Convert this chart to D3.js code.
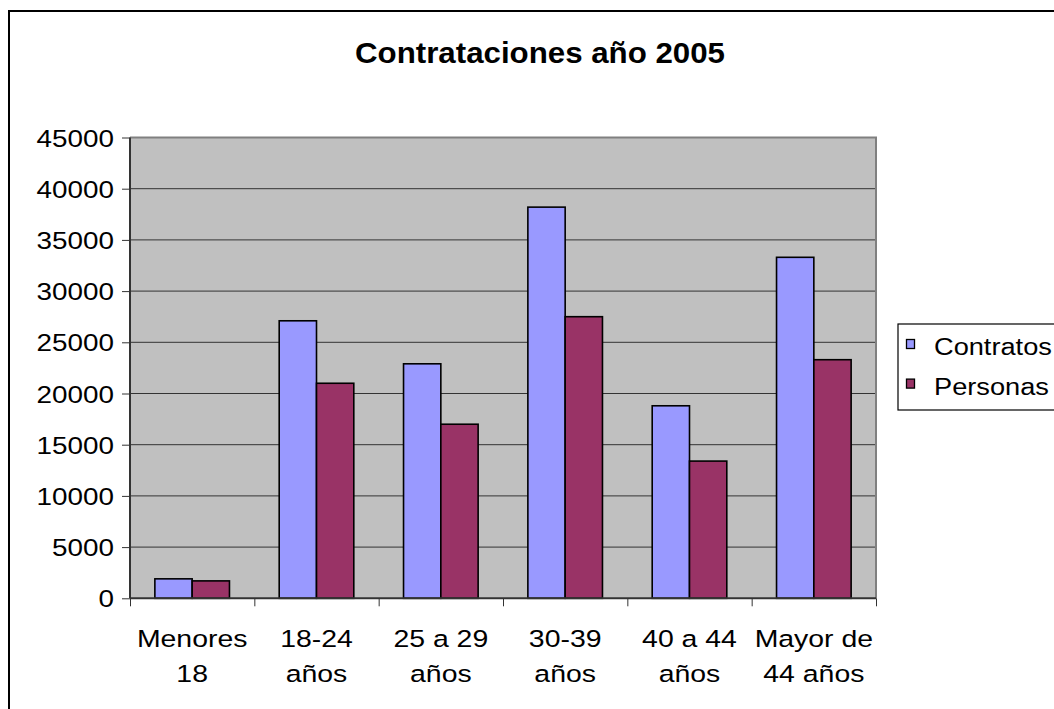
<!DOCTYPE html>
<html><head><meta charset="utf-8">
<script src="https://cdn.jsdelivr.net/npm/d3@7"></script>
<style>body{margin:0;background:#fff}svg{display:block}text{font-family:"Liberation Sans",Arial,sans-serif}</style>
</head><body><svg id="c" width="1054" height="709"></svg>
<script>
const title = "Contrataciones año 2005";
const categories = [["Menores","18"],["18-24","años"],["25 a 29","años"],["30-39","años"],["40 a 44","años"],["Mayor de","44 años"]];
const seriesNames = ["Contratos","Personas"];
const contratos = [1900, 27100, 22900, 38200, 18800, 33300];
const personas = [1700, 21000, 17000, 27500, 13400, 23300];
const yTicks = [0,5000,10000,15000,20000,25000,30000,35000,40000,45000];
const colors = ["#9999FF","#993366"];

const svg = d3.select("#c");
const L=130, R=876, T=137.5, B=598.3;
const stretch = 1.16;

svg.append("rect").attr("x",9).attr("y",11).attr("width",1100).attr("height",760)
  .attr("fill","#fff").attr("stroke","#000").attr("stroke-width",2);

const x0 = d3.scaleBand().domain(d3.range(categories.length)).range([L,R]);
const bw = x0.bandwidth();
const y = d3.scaleLinear().domain([0,45000]).range([B,T]);

svg.append("rect").attr("x",L).attr("y",T).attr("width",R-L).attr("height",B-T).attr("fill","#C0C0C0");
svg.append("g").selectAll("line").data(yTicks.filter(d=>d>0 && d<45000)).join("line")
  .attr("x1",L).attr("x2",R).attr("y1",d=>y(d)).attr("y2",d=>y(d)).attr("stroke","#333").attr("stroke-width",1);
svg.append("path").attr("d",`M${L},${T}H${R}V${B}`).attr("fill","none").attr("stroke","#808080").attr("stroke-width",2);

const series = [contratos, personas];
const barW = bw*0.3, gap0 = (bw - 2*barW)/2;
categories.forEach((c,i)=>{
  series.forEach((s,j)=>{
    svg.append("rect").attr("x",x0(i)+gap0+j*barW).attr("y",y(s[i])).attr("width",barW).attr("height",B-y(s[i]))
      .attr("fill",colors[j]).attr("stroke","#000").attr("stroke-width",1.6);
  });
});

const yAxis = d3.axisLeft(y).tickValues(yTicks).tickSize(8).tickPadding(8).tickFormat(d3.format("d"));
const gy = svg.append("g").attr("transform",`translate(${L},0)`).call(yAxis);
gy.select(".domain").attr("stroke","#333").attr("stroke-width",2).attr("d",`M0,${T}V${B}`);
gy.selectAll(".tick line").attr("stroke","#333");
gy.selectAll("text").attr("font-size",24).attr("fill","#000").attr("dy","0.36em").attr("font-family","Liberation Sans, Arial, sans-serif");

const xb = d3.scaleLinear().domain([0,categories.length]).range([L,R]);
const gx = svg.append("g").attr("transform",`translate(0,${B})`).call(d3.axisBottom(xb).tickValues(d3.range(categories.length+1)).tickSize(8).tickFormat(""));
gx.select(".domain").attr("stroke","#333").attr("stroke-width",2).attr("d",`M${L},0H${R}`);
gx.selectAll(".tick line").attr("stroke","#333");
categories.forEach((c,i)=>{
  c.forEach((t,k)=>{
    svg.append("text").attr("x",x0(i)+bw/2).attr("y",647+k*35).attr("text-anchor","middle")
      .attr("font-size",24.5).attr("fill","#000").text(t);
  });
});

svg.append("text").attr("x",540).attr("y",63).attr("text-anchor","middle").attr("font-size",30)
  .attr("font-weight","bold").attr("fill","#000").attr("class","ttl").text(title);

svg.append("rect").attr("x",898).attr("y",324).attr("width",200).attr("height",86).attr("fill","#fff").attr("stroke","#000").attr("stroke-width",1.2);
seriesNames.forEach((n,j)=>{
  svg.append("rect").attr("x",906.5).attr("y",339.5+j*39.6).attr("width",8).attr("height",9)
    .attr("fill",colors[j]).attr("stroke","#000").attr("stroke-width",1.3);
  svg.append("text").attr("x",934).attr("y",355+j*39.6).attr("font-size",24.5).attr("fill","#000").attr("class","leg").text(n);
});

// horizontal stretch of glyphs (reference text is rendered wider than normal)
svg.selectAll("text").each(function(){
  const el = d3.select(this);
  const len = this.getComputedTextLength();
  const s = this.classList.contains("ttl") ? 370/len : (this.classList.contains("leg") ? 1.11 : stretch);
  const x = +el.attr("x")||0, yy = +el.attr("y")||0;
  el.attr("x",0).attr("y",0).attr("transform",`translate(${x},${yy}) scale(${s},1)`);
});
</script></body></html>
